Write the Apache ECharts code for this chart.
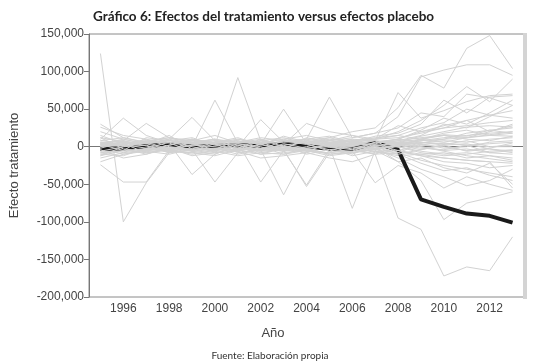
<!DOCTYPE html>
<html>
<head>
<meta charset="utf-8">
<script src="https://cdn.jsdelivr.net/npm/echarts@6/dist/echarts.min.js"></script>
<style>
html,body{margin:0;padding:0;background:#fff;}
#chart{width:534px;height:364px;}
</style>
</head>
<body>
<div id="chart"></div>
<script>
// años del eje x
var years = ['1995','1996','1997','1998','1999','2000','2001','2002','2003','2004',
             '2005','2006','2007','2008','2009','2010','2011','2012','2013'];

// efecto del tratamiento (miles)
var treatmentK = [-3, -2, 1, 3, 0, 1, 2, 1, 4, 1, -3, -3, 5, -4, -70, -80, -89, -92, -101];

// efectos placebo (miles), una fila por unidad
var placeboK = [
  [124, -100, -48, -8, 2, 5, 3, -2, 4, 6, 3, 1, 2, 5, 8, 10, 12, 15, 14],
  [-24, -47, -47, -5, -3, 0, 2, -4, 1, -2, 0, 3, 2, -6, -12, -15, -18, -20, -22],
  [8, 5, 2, 10, 4, -3, 6, 2, 8, 5, 12, 20, 25, 52, 95, 78, 131, 148, 104],
  [-5, 3, 8, 2, 0, 6, -4, 5, 10, 15, 8, 12, 18, 40, 93, 102, 109, 109, 95],
  [2, -4, 6, 12, 8, 15, 5, 10, 3, 31, 20, 15, 10, 20, 35, 55, 80, 60, 90],
  [0, 6, -2, 4, 10, 5, 8, -3, 5, 10, 66, 12, 18, 25, 45, 40, 70, 65, 55],
  [3, 0, 5, -3, 6, 2, 92, 8, 2, 6, 4, 10, 8, 72, 38, 48, 60, 68, 70],
  [-3, 8, 2, 6, 0, 62, 5, 3, 50, 4, 10, 6, 14, 18, 30, 62, 45, 66, 68],
  [6, 2, 10, 3, 5, 8, 0, 36, 6, 10, 5, 8, 12, 15, 25, 32, 50, 42, 38],
  [4, 10, 3, 8, 12, 2, 6, 5, 10, 3, 8, 15, 6, 10, 22, 38, 30, 45, 62],
  [-2, 3, 7, 0, 5, 10, 3, 6, 2, 8, 12, 5, 10, 12, 18, 25, 28, 32, 35],
  [12, 7, 0, 5, 2, 6, 10, 4, 7, 2, 6, 3, 8, 6, 14, 20, 26, 28, 26],
  [-5, 0, 4, 8, 2, 0, 5, 8, 4, 6, 3, 8, 10, 28, 20, 25, 35, 20, 30],
  [30, 12, 5, 10, 39, 8, 2, 5, 3, 0, 2, 4, 6, 10, 20, 28, 35, 42, 48],
  [10, 38, 15, 5, 10, 2, 0, 3, -2, 1, 5, 0, 3, 8, 15, 30, 25, 40, 55],
  [5, 8, 31, 12, 6, -5, -3, 8, 0, 3, -2, 5, 4, 6, 10, 16, 14, 22, 18],
  [-8, -3, 2, -5, 3, -2, -6, 0, -4, 2, -5, -3, -10, -95, -110, -172, -160, -165, -120],
  [2, -6, -3, 4, -37, -10, 2, -5, -3, -8, 0, -82, -5, -20, -45, -97, -75, -68, -60],
  [-6, -2, -10, 0, -4, -47, -8, -3, -6, -2, -10, -6, -48, -25, -35, -55, -40, -50, -58],
  [-10, -4, 0, -8, -2, -3, 5, -47, -5, -51, -4, -8, -3, -15, -30, -40, -52, -45, -30],
  [0, -8, -5, -2, -6, -2, -10, -4, -64, -6, -2, -12, -6, -10, -22, -32, -28, -38, -45],
  [-4, 2, -6, -10, -3, -8, -2, -6, -4, -53, -8, -5, -10, -8, -18, -25, -30, -35, -40],
  [-12, -5, -8, -4, -10, -6, -12, -8, -10, -5, -12, -8, -4, -6, -12, -20, -22, -28, -25],
  [-2, -10, -4, -6, -8, -12, -4, -10, -2, -6, -8, -2, -6, -12, -10, -15, -18, -20, -55],
  [5, 2, -3, 0, -6, 4, 2, -8, -3, -4, 2, -6, 0, -20, -15, -28, -35, -22, -50],
  [-3, 2, -1, 4, 0, 3, -2, 1, 5, 0, -3, 2, 4, -2, 5, 8, 6, 10, 12],
  [5, -2, 3, 0, 6, -1, 4, 2, -3, 5, 1, 6, 2, 4, 0, -5, -3, -8, -10],
  [-8, -5, 0, 3, -4, 2, 6, -2, 0, 4, -6, -2, 5, 3, 8, 12, 15, 18, 20],
  [2, 6, -4, -2, 3, 8, 0, 5, 2, -4, 3, 7, -2, 0, -6, -10, -8, -12, -15],
  [-15, -8, 4, 6, -2, -5, 3, 0, -6, 2, 5, -4, 0, 6, 3, 5, 2, 4, 6],
  [8, 12, 6, -3, 2, 0, -5, 4, 6, 8, 2, -3, 6, 8, 12, 15, 10, 8, 14],
  [-20, -10, -6, 2, 8, 4, 2, -6, 4, -2, 0, 5, 3, -5, -10, -8, -15, -12, -18],
  [15, 4, 8, 12, 5, 10, 6, 12, 8, 10, 14, 6, 10, 15, 10, 6, 12, 16, 20],
  [-6, 0, 2, -8, -5, 4, -8, -4, 2, -10, -4, 0, -8, -5, 2, 0, -5, -2, 5],
  [3, -5, 12, 8, 4, -4, 10, 6, -4, 12, 6, 10, -4, 2, -4, 3, 8, 0, 2],
  [0, 4, -8, -4, 6, 10, -4, 8, 12, 4, -6, 4, 8, -8, 4, -2, 0, 6, 8],
  [-10, -12, -2, -6, -8, -4, 0, -10, -8, -4, -10, -8, -2, 0, -8, -12, -10, -6, -4],
  [20, 10, 4, 15, -3, 6, 12, 2, 14, 6, 9, 2, 4, 10, 6, 2, 4, -3, -6],
  [-4, -15, -10, -2, -12, -8, -6, -15, -12, -8, -15, -20, -10, 2, 5, 10, 18, 22, 25],
  [6, 3, -2, 6, 0, -6, 4, -2, 2, 6, 0, -4, 2, 4, 6, 4, 2, 0, 0],
  [-2, 6, 4, -4, 2, 6, 8, 3, -5, 0, 8, 3, -4, 2, 10, 15, 12, 20, 28],
  [12, -3, -6, 2, 10, 2, -2, 10, 0, -6, 4, 8, 0, -10, -4, 2, -6, -3, -8],
  [-12, 0, 6, 5, -6, -10, 2, -4, 8, 3, -4, -6, 6, 5, 0, -6, -12, -16, -20],
  [4, 8, 1, -6, 8, 3, 4, 0, -10, -2, 2, -10, 2, 0, 10, 18, 22, 15, 18],
  [26, 15, 10, 0, -3, -2, -6, 3, -2, 8, -1, 0, -3, 3, -2, -4, 2, -8, -5]
];

var chart = echarts.init(document.getElementById('chart'));

var grayLine = function (row, n) {
  return {
    name: 'Placebo ' + n,
    type: 'line',
    data: row,
    showSymbol: false,
    lineStyle: {color: '#d2d2d2', width: 1},
    itemStyle: {color: '#d2d2d2'}
  };
};

// la linea negra queda entre los placebos: unos por debajo, otros por encima
var series = [];
var half = 30;
for (var i = 0; i < half; i++) series.push(grayLine(placeboK[i], i + 1));
series.push({
  name: 'Tratamiento',
  type: 'line',
  data: treatmentK,
  showSymbol: false,
  lineStyle: {color: '#1a1a1a', width: 4},
  itemStyle: {color: '#1a1a1a'}
});
for (var j = half; j < placeboK.length; j++) series.push(grayLine(placeboK[j], j + 1));

var option = {
  animation: false,
  backgroundColor: '#fff',
  title: [
    {
      text: 'Gráfico 6: Efectos del tratamiento versus efectos placebo',
      left: 88, top: 5,
      textStyle: {fontFamily: 'Lato', fontWeight: 'bold', fontSize: 13.5, color: '#222'}
    },
    {
      text: 'Año',
      left: 268, top: 322, textAlign: 'center',
      textStyle: {fontFamily: 'Liberation Sans', fontWeight: 'normal', fontSize: 13, color: '#444'}
    },
    {
      text: 'Fuente: Elaboración propia',
      left: 265, top: 346, textAlign: 'center',
      textStyle: {fontFamily: 'Lato', fontWeight: 'normal', fontSize: 10, color: '#333'}
    }
  ],
  grid: {
    left: 88, right: 10, top: 34, bottom: 67,
    show: true, borderColor: '#8a8a8a', borderWidth: 1
  },
  xAxis: {
    type: 'category',
    data: years,
    boundaryGap: true,
    axisLine: {lineStyle: {color: '#777'}},
    axisTick: {interval: 0, length: 4, lineStyle: {color: '#777'}},
    axisLabel: {
      interval: function (idx, val) { return (+val) % 2 === 0; },
      color: '#444', fontFamily: 'Liberation Sans', fontSize: 12, margin: 6
    },
    splitLine: {show: false}
  },
  yAxis: {
    type: 'value',
    min: -200, max: 150, interval: 50,
    name: 'Efecto tratamiento',
    nameLocation: 'middle',
    nameGap: 68,
    nameTextStyle: {fontFamily: 'Liberation Sans', fontSize: 13, color: '#444'},
    axisLine: {show: true, lineStyle: {color: '#777'}},
    axisTick: {show: true, length: 5, lineStyle: {color: '#777'}},
    axisLabel: {
      color: '#444', fontFamily: 'Liberation Sans', fontSize: 12, margin: 5,
      formatter: function (v) { return (v * 1000).toLocaleString('en-US'); }
    },
    splitLine: {show: false}
  },
  graphic: [
    {type: 'rect', left: 523, top: 33, shape: {width: 4, height: 266}, style: {fill: '#d4d4d4'}, z: 100}
  ],
  series: series
};

chart.setOption(option);
</script>
</body>
</html>
